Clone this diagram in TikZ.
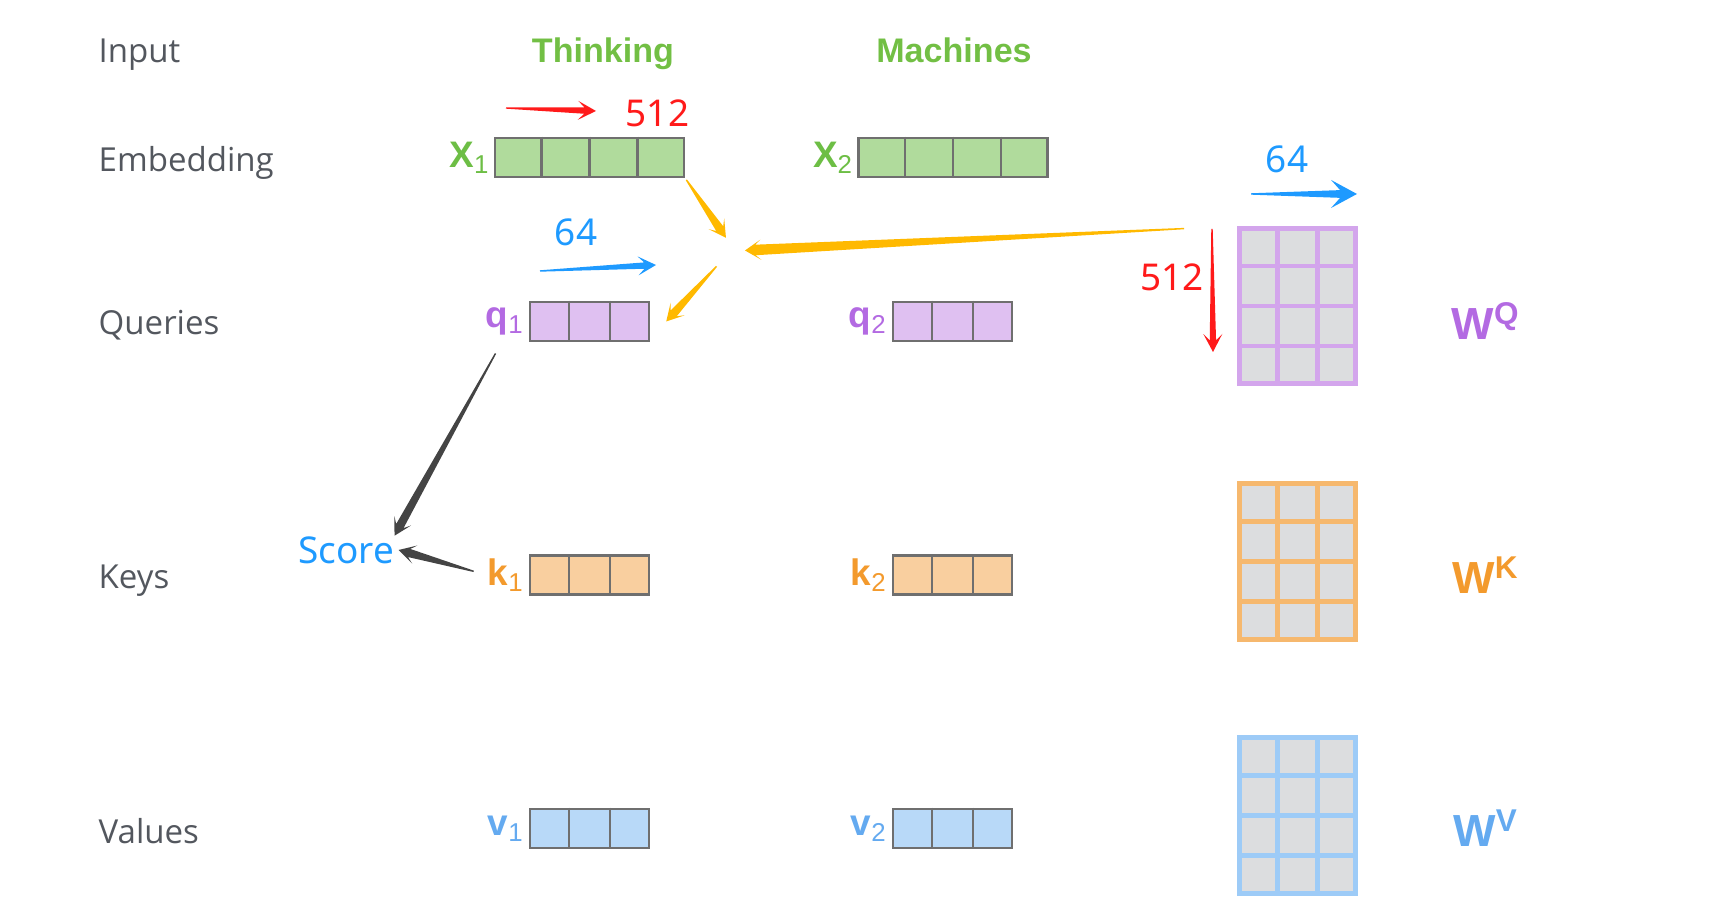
\documentclass[tikz,border=0pt]{standalone}
\usepackage{fontspec}
\setmainfont{Open Sans}
\newfontfamily\arialfont{Liberation Sans}
\newfontfamily\notofont{Noto Sans}
\usetikzlibrary{positioning,calc}
\definecolor{rowgray}{HTML}{53575E}
\definecolor{wordgreen}{HTML}{72BF44}
\definecolor{cellgray}{HTML}{6F6F6F}
\definecolor{xfill}{HTML}{B0DB9C}
\definecolor{xcol}{HTML}{6DBE45}
\definecolor{qfill}{HTML}{DFC0F1}
\definecolor{qcol}{HTML}{B36AE2}
\definecolor{qline}{HTML}{D3A5EC}
\definecolor{kfill}{HTML}{F9CF9F}
\definecolor{kcol}{HTML}{F39A2D}
\definecolor{kline}{HTML}{F6B86E}
\definecolor{vfill}{HTML}{B8D9F8}
\definecolor{vcol}{HTML}{64AAF0}
\definecolor{vline}{HTML}{9DCBF7}
\definecolor{matfill}{HTML}{DCDDDF}
\definecolor{dimred}{HTML}{FF1A1A}
\definecolor{dimblue}{HTML}{1E9AFF}
\definecolor{flowyellow}{HTML}{FFB900}
\definecolor{flowdark}{HTML}{444444}

\begin{document}
\begin{tikzpicture}[
    rowlabel/.style={anchor=west, inner sep=0pt, text=rowgray, font=\fontsize{9.4}{11}\selectfont},
    word/.style={anchor=base, inner sep=0pt, text=wordgreen, font=\arialfont\bfseries\fontsize{9.7}{11}\selectfont},
    vec/.style={draw=cellgray, line width=0.7pt, minimum height=0.39cm, inner sep=0pt},
    veclab/.style={inner sep=0pt, font=\arialfont\bfseries\fontsize{10.5}{12}\selectfont},
    mat/.style={fill=matfill, line width=1.3pt, minimum width=1.165cm, minimum height=1.555cm, inner sep=0pt},
    wlab/.style={inner sep=0pt, font=\arialfont\bfseries\fontsize{12.8}{14}\selectfont},
    dimlabel/.style={inner sep=0pt, font=\notofont\fontsize{10.5}{12}\selectfont},
    wedgeto/.style n args={3}{to path={
        ($(\tikztotarget)!#1!(\tikztostart)$) coordinate (wb)
        ($(\tikztotarget)!0.65*#1!(\tikztostart)$) coordinate (wn)
        ($(\tikztostart)!0.2pt!90:(\tikztotarget)$)
        -- ($(wn)!#3!90:(\tikztotarget)$)
        -- ($(wb)!#2!90:(\tikztotarget)$)
        -- (\tikztotarget)
        -- ($(wb)!#2!-90:(\tikztotarget)$)
        -- ($(wn)!#3!-90:(\tikztotarget)$)
        -- ($(\tikztostart)!0.2pt!-90:(\tikztotarget)$)
        -- cycle}},
    dimto/.style={wedgeto={0.18cm}{2.7pt}{0.9pt}},
    bigdimto/.style={wedgeto={0.26cm}{4pt}{1.1pt}},
    flowto/.style={wedgeto={0.17cm}{2.7pt}{1.2pt}},
    bigflowto/.style={wedgeto={0.16cm}{2.9pt}{1.5pt}}
]
    \useasboundingbox (0,0) rectangle (17.16,9.16);

    % Row labels
    \node[rowlabel] (input) at (0.98,8.615) {Input};
    \node[rowlabel] (embed) at (0.98,7.535) {Embedding};
    \node[rowlabel] (queries) at (0.98,5.905) {Queries};
    \node[rowlabel] (keys) at (0.98,3.355) {Keys};
    \node[rowlabel] (values) at (0.98,0.85) {Values};

    \node[word] (thinking) at (6.03,8.535) {Thinking};
    \node[word] (machines) at (9.54,8.535) {Machines};

    % Vectors
    \node[vec, fill=xfill, minimum width=1.89cm] (x1) at (5.895,7.585) {};
    \node[vec, fill=xfill, minimum width=1.89cm] (x2) at (9.53,7.585) {};
    \node[vec, fill=qfill, minimum width=1.19cm] (q1) at (5.895,5.945) {};
    \node[vec, fill=qfill, minimum width=1.19cm] (q2) at (9.525,5.945) {};
    \node[vec, fill=kfill, minimum width=1.19cm] (k1) at (5.895,3.41) {};
    \node[vec, fill=kfill, minimum width=1.19cm] (k2) at (9.525,3.41) {};
    \node[vec, fill=vfill, minimum width=1.19cm] (v1) at (5.895,0.875) {};
    \node[vec, fill=vfill, minimum width=1.19cm] (v2) at (9.525,0.875) {};
    \foreach \v/\n in {x1/4, x2/4, q1/3, q2/3, k1/3, k2/3, v1/3, v2/3} {
        \pgfmathtruncatemacro\m{\n-1}
        \foreach \i in {1,...,\m}
            \draw[draw=cellgray, line width=0.7pt] ($(\v.north west)!\i/\n!(\v.north east)$) -- ($(\v.south west)!\i/\n!(\v.south east)$);
    }

    \node[veclab, text=xcol, left=0.8pt of x1] (x1lab) {X\textsubscript{\mdseries 1}};
    \node[veclab, text=xcol, left=0.8pt of x2] (x2lab) {X\textsubscript{\mdseries 2}};
    \node[veclab, text=qcol, left=1pt of q1] (q1lab) {q\textsubscript{\mdseries 1}};
    \node[veclab, text=qcol, left=1pt of q2] (q2lab) {q\textsubscript{\mdseries 2}};
    \node[veclab, text=kcol, left=1pt of k1] (k1lab) {k\textsubscript{\mdseries 1}};
    \node[veclab, text=kcol, left=1pt of k2] (k2lab) {k\textsubscript{\mdseries 2}};
    \node[veclab, text=vcol, left=1pt of v1] (v1lab) {v\textsubscript{\mdseries 1}};
    \node[veclab, text=vcol, left=1pt of v2] (v2lab) {v\textsubscript{\mdseries 2}};

    % Weight matrices
    \node[mat, draw=qline] (wq) at (12.975,6.10) {};
    \node[mat, draw=kline] (wk) at (12.975,3.545) {};
    \node[mat, draw=vline] (wv) at (12.975,1.005) {};
    \foreach \w/\c in {wq/qline, wk/kline, wv/vline} {
        \foreach \i in {1,2}
            \draw[draw=\c, line width=1.3pt] ($(\w.north west)!\i/3!(\w.north east)$) -- ($(\w.south west)!\i/3!(\w.south east)$);
        \foreach \j in {1,2,3}
            \draw[draw=\c, line width=1.3pt] ($(\w.north west)!\j/4!(\w.south west)$) -- ($(\w.north east)!\j/4!(\w.south east)$);
    }
    \node[wlab, text=qcol] (wqlab) at (14.86,5.95) {W\textsuperscript{Q}};
    \node[wlab, text=kcol] (wklab) at (14.86,3.41) {W\textsuperscript{K}};
    \node[wlab, text=vcol] (wvlab) at (14.86,0.88) {W\textsuperscript{V}};

    % Dimensions
    \coordinate (r1a) at (5.06,8.08);
    \coordinate (r1b) at (5.96,8.05);
    \fill[dimred] (r1a) to[dimto] (r1b);
    \node[dimlabel, text=dimred] (n512a) at (6.575,8.03) {512};

    \coordinate (b1a) at (5.40,6.45);
    \coordinate (b1b) at (6.56,6.51);
    \fill[dimblue] (b1a) to[dimto] (b1b);
    \node[dimlabel, text=dimblue] (n64a) at (5.76,6.84) {64};

    \coordinate (b2a) at (12.51,7.22);
    \coordinate (b2b) at (13.57,7.22);
    \fill[dimblue] (b2a) to[bigdimto] (b2b);
    \node[dimlabel, text=dimblue] (n64b) at (12.87,7.57) {64};

    \coordinate (r2a) at (12.12,6.87);
    \coordinate (r2b) at (12.13,5.64);
    \fill[dimred] (r2a) to[dimto] (r2b);
    \node[dimlabel, text=dimred] (n512b) at (11.72,6.39) {512};

    % Multiplication arrows
    \coordinate (mix) at (7.35,6.65);
    \fill[flowyellow] ($(x1.south east)!0.02cm!(mix)$) to[flowto] ($(mix)!0.16cm!(x1.south east)$);
    \fill[flowyellow] ($(wq.north west)!0.53cm!(mix)$) to[bigflowto] ($(mix)!0.10cm!(wq.north west)$);
    \fill[flowyellow] ($(mix)!0.24cm!(q1.east)$) to[flowto] ($(q1.east)+(0.16,0)$);

    % Score
    \node[dimlabel, text=dimblue] (score) at (3.46,3.66) {Score};
    \fill[flowdark] ($(q1lab.south)!0.2cm!(score.north east)$) to[flowto] (score.north east);
    \fill[flowdark] ($(k1lab.west)!0.14cm!(score.east)$) to[flowto] ($(score.east)+(0.04,0)$);
\end{tikzpicture}
\end{document}
